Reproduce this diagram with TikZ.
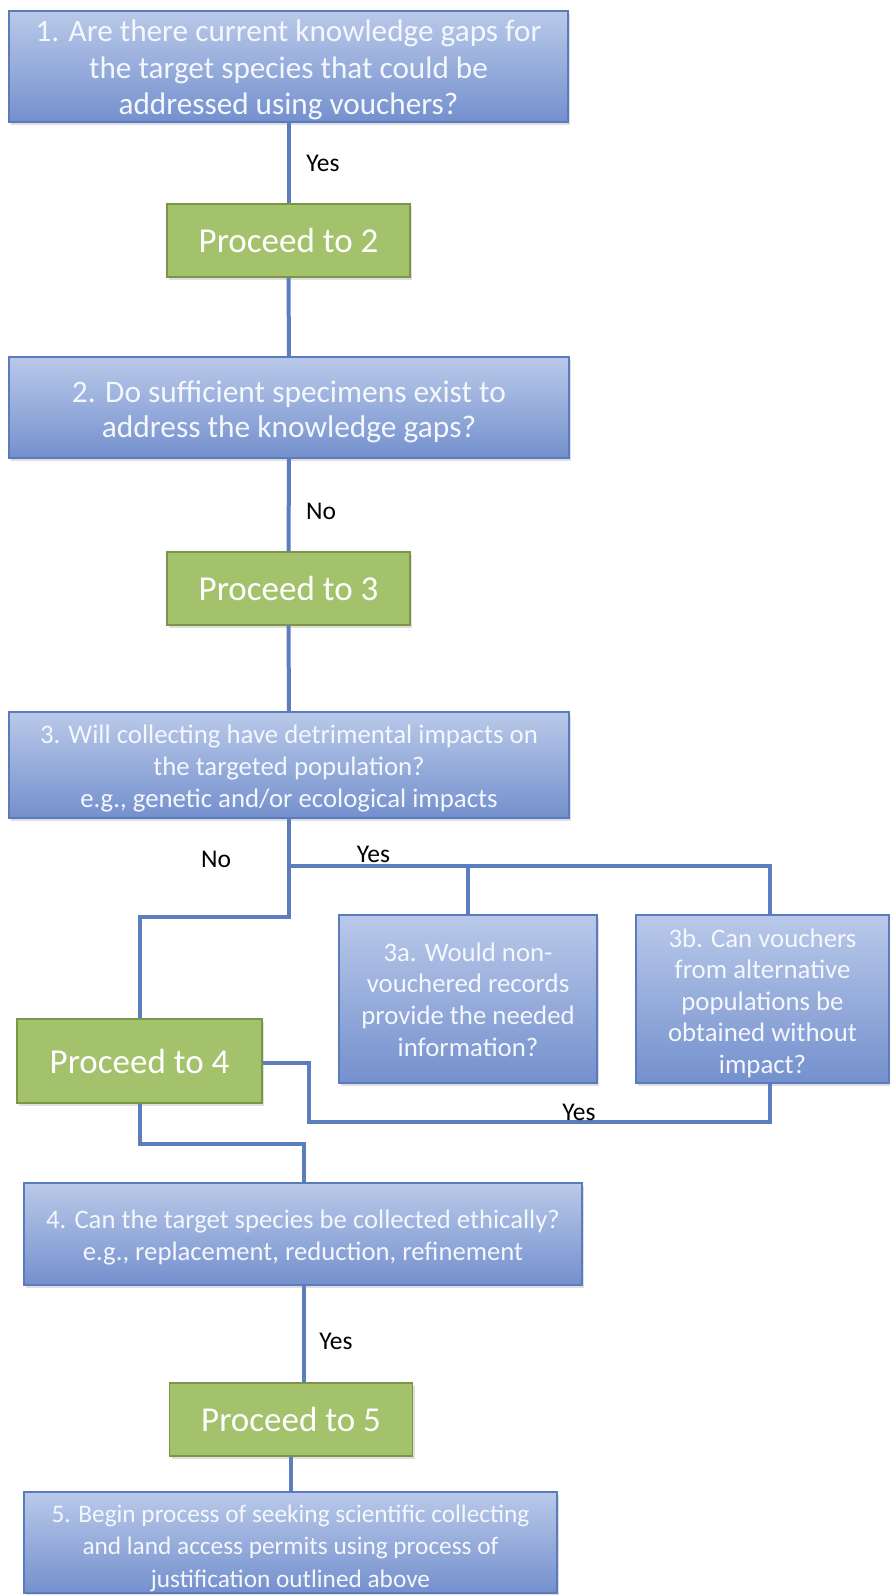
\documentclass[tikz,border=0pt]{standalone}
\usepackage{fontspec}
\setmainfont{Carlito}
\usetikzlibrary{shadows}
\definecolor{bluetop}{RGB}{185,201,233}
\definecolor{bluebot}{RGB}{116,144,205}
\definecolor{blueedge}{RGB}{92,123,190}
\definecolor{greenfill}{RGB}{163,194,107}
\definecolor{greenedge}{RGB}{122,150,70}
\definecolor{linkcol}{RGB}{92,125,190}
\definecolor{boxtext}{RGB}{244,247,253}
% text block whose first baseline lies #1 above the node centre
\newcommand{\boxtxt}[2]{\raisebox{#1}[0pt][0pt]{\begin{tabular}[t]{@{}c@{}}#2\end{tabular}}}
\tikzset{
  qbox/.style={draw=blueedge, line width=1.2pt, top color=bluetop, bottom color=bluebot,
    inner sep=0pt, align=center, text=boxtext,
    drop shadow={shadow xshift=2pt, shadow yshift=-3pt, opacity=0.25}},
  gbox/.style={draw=greenedge, line width=1.2pt, fill=greenfill, inner sep=0pt,
    align=center, text=white, font=\fontsize{35}{40}\selectfont,
    drop shadow={shadow xshift=2pt, shadow yshift=-3pt, opacity=0.25}},
  link/.style={draw=linkcol, line width=4pt},
  lab/.style={font=\fontsize{25.5}{28}\selectfont, text=black, inner sep=0pt}
}
\begin{document}
\begin{tikzpicture}[x=1pt, y=-1pt]
\path[use as bounding box, fill=white] (0,0) rectangle (889,1595);

\coordinate (bj) at (289,917);
\coordinate (bk) at (140,917);
\coordinate (yj) at (289,866);
\coordinate (ya) at (468,866);
\coordinate (yb) at (770,866);
\coordinate (r1) at (309,1063);
\coordinate (r2) at (309,1122);
\coordinate (r3) at (770,1122);
\coordinate (d1) at (140,1144);
\coordinate (d2) at (304,1144);

\node[qbox, minimum width=559pt, minimum height=111pt, font=\fontsize{31.2}{36.5}\selectfont] (b1) at (288.5,66.5)
  {\boxtxt{24.5pt}{1. Are there current knowledge gaps for\\the target species that could be\\addressed using vouchers?}};
\node[gbox, minimum width=243pt, minimum height=73pt] (g2) at (288.5,240.5) {Proceed to 2};
\node[qbox, minimum width=560pt, minimum height=101pt, font=\fontsize{31.4}{35.5}\selectfont] (b2) at (289,407.5)
  {\boxtxt{5.5pt}{2. Do sufficient specimens exist to\\address the knowledge gaps?}};
\node[gbox, minimum width=243pt, minimum height=73pt] (g3) at (288.5,588.5) {Proceed to 3};
\node[qbox, minimum width=560pt, minimum height=106pt, font=\fontsize{26.8}{32}\selectfont] (b3) at (289,765)
  {\boxtxt{22pt}{3. Will collecting have detrimental impacts on\\the targeted population?\\e.g., genetic and/or ecological impacts}};
\node[qbox, minimum width=258pt, minimum height=168pt, font=\fontsize{26.8}{31.7}\selectfont] (b3a) at (468,999)
  {\boxtxt{38pt}{3a. Would non-\\vouchered records\\provide the needed\\information?}};
\node[qbox, minimum width=253pt, minimum height=168pt, font=\fontsize{26.8}{31.5}\selectfont] (b3b) at (762.5,999)
  {\boxtxt{52pt}{3b. Can vouchers\\from alternative\\populations be\\obtained without\\impact?}};
\node[gbox, minimum width=245pt, minimum height=84pt] (g4) at (139.5,1061) {Proceed to 4};
\node[qbox, minimum width=558pt, minimum height=102pt, font=\fontsize{26.7}{32}\selectfont] (b4) at (303,1234)
  {\boxtxt{6pt}{4. Can the target species be collected ethically?\\e.g., replacement, reduction, refinement}};
\node[gbox, minimum width=243pt, minimum height=73pt] (g5) at (291,1419.5) {Proceed to 5};
\node[qbox, minimum width=533pt, minimum height=101pt, font=\fontsize{25.3}{32.5}\selectfont] (b5) at (290.5,1542.5)
  {\boxtxt{20.5pt}{5. Begin process of seeking scientific collecting\\and land access permits using process of\\justification outlined above}};

% connectors
\draw[link] (b1.south) -- (g2.north);
\draw[link] (g2.south) -- (b2.north);
\draw[link] (b2.south) -- (g3.north);
\draw[link] (g3.south) -- (b3.north);
\draw[link] (b3.south) -- (bj) -- (bk) -- (g4.north -| bk);
\draw[link] (yj) -- (yb) -- (b3b.north -| yb);
\draw[link] (ya) -- (b3a.north -| ya);
\draw[link] (g4.east |- r1) -- (r1) -- (r2) -- (r3) -- (b3b.south -| r3);
\draw[link] (g4.south -| d1) -- (d1) -- (d2) -- (d2 |- b4.north);
\draw[link] (b4.south -| d2) -- (d2 |- g5.north);
\draw[link] (g5.south) -- (g5.south |- b5.north);

% labels
\node[lab] (l1) at (323,163) {Yes};
\node[lab] (l2) at (321,511) {No};
\node[lab] (l3) at (216,859) {No};
\node[lab] (l4) at (373.5,854) {Yes};
\node[lab] (l5) at (579,1112) {Yes};
\node[lab] (l6) at (336,1341) {Yes};
\end{tikzpicture}
\end{document}
